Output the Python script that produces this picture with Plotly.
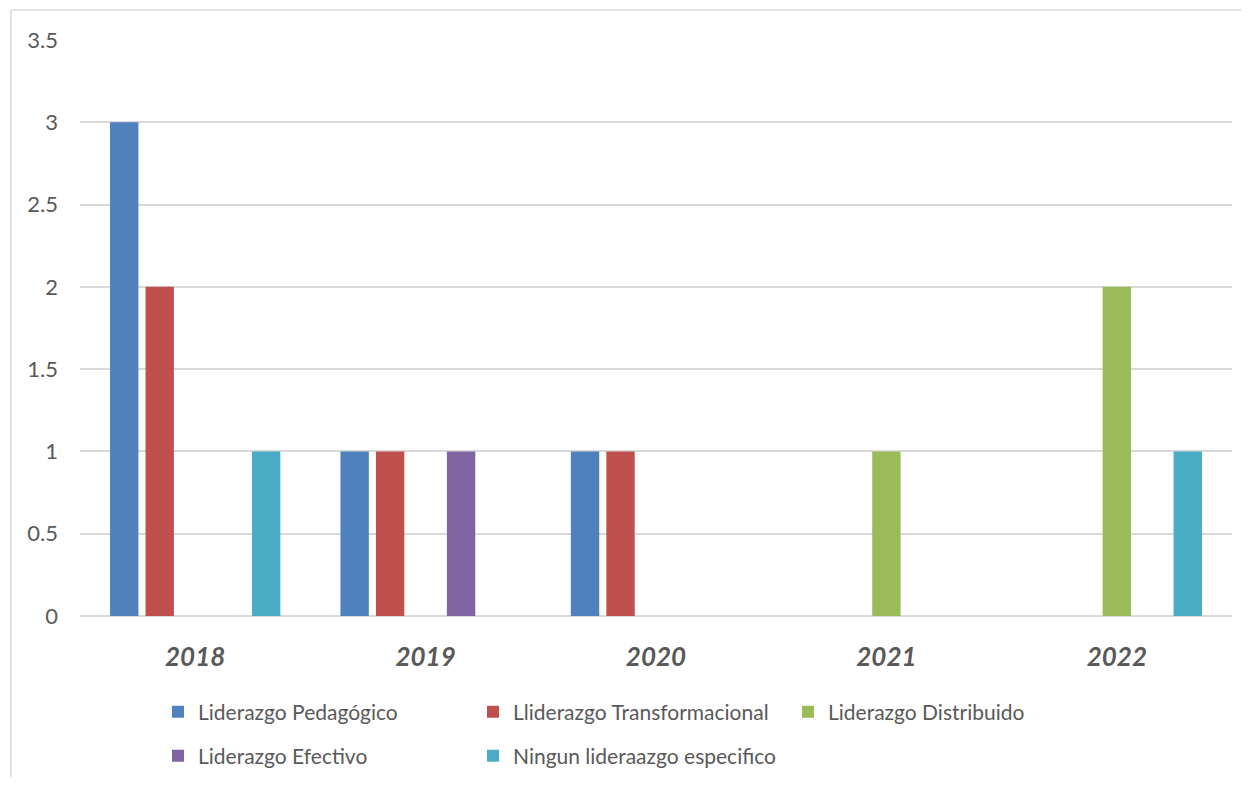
import plotly.graph_objects as go

years = ["2018", "2019", "2020", "2021", "2022"]
series_names = [
    "Liderazgo Pedagógico",
    "Lliderazgo Transformacional",
    "Liderazgo Distribuido",
    "Liderazgo Efectivo",
    "Ningun lideraazgo especifico",
]
pedagogico = [3, 1, 1, 0, 0]
transformacional = [2, 1, 1, 0, 0]
distribuido = [0, 0, 0, 1, 2]
efectivo = [0, 1, 0, 0, 0]
ninguno = [1, 0, 0, 0, 1]
values = [pedagogico, transformacional, distribuido, efectivo, ninguno]
colors = ["#4F81BD", "#C0504D", "#9BBB59", "#8064A2", "#4BACC6"]
legend_ids = ["legend", "legend", "legend", "legend2", "legend2"]

FONT = "Lato, 'Open Sans', sans-serif"
TXT = "#595959"

fig = go.Figure()
for name, vals, col, lg in zip(series_names, values, colors, legend_ids):
    fig.add_trace(go.Bar(x=years, y=vals, name=name, marker_color=col,
                         marker_line_width=0, legend=lg))

# page has an 8px body margin on every side; keep figure inside the window
OFF = 8
W, H = 1249 - 2 * OFF, 785 - 2 * OFF
PL, PR, PT, PB = 80, 1232, 40, 616  # plot area in page pixels
L, T = PL - OFF, PT - OFF
R = W - (PR - OFF)
B = H - (PB - OFF)
pw, ph = PR - PL, PB - PT


def px(x):
    return (x - PL) / pw


def py(y):
    return (PB - y) / ph


def cx(x):
    return (x - OFF) / W


def cy(y):
    return 1 - (y - OFF) / H


legend_common = dict(orientation="h", xanchor="left", yanchor="middle",
                     xref="container", yref="container",
                     font=dict(family=FONT, size=21, color=TXT),
                     entrywidth=270, entrywidthmode="pixels",
                     bgcolor="rgba(0,0,0,0)", traceorder="normal")

fig.update_layout(
    width=W, height=H,
    margin=dict(l=L, r=R, t=T, b=B, autoexpand=False),
    paper_bgcolor="white", plot_bgcolor="white",
    barmode="group", bargap=0.23, bargroupgap=0.2,
    font=dict(family=FONT, color=TXT),
    legend=dict(x=cx(158), y=cy(712), **legend_common),
    legend2=dict(x=cx(158), y=cy(756), **legend_common),
    xaxis=dict(showgrid=False, showline=False, zeroline=False,
               tickfont=dict(family=FONT, size=26, color=TXT, weight="bold", style="italic"),
               ticklabelstandoff=23),
    yaxis=dict(range=[0, 3.5], dtick=0.5, showgrid=True, gridcolor="#D9D9D9",
               gridwidth=1.5, zeroline=True, zerolinecolor="#D9D9D9", zerolinewidth=1.5,
               showline=False,
               tickfont=dict(family=FONT, size=22, color=TXT),
               ticklabelstandoff=21),
    shapes=[
        dict(type="line", xref="paper", yref="paper",
             x0=px(11), x1=px(1260), y0=py(10), y1=py(10),
             line=dict(color="#D9D9D9", width=1.5)),
        dict(type="line", xref="paper", yref="paper",
             x0=px(11), x1=px(11), y0=py(10), y1=py(800),
             line=dict(color="#D9D9D9", width=1.5)),
    ],
)

fig.write_html("out.html")
